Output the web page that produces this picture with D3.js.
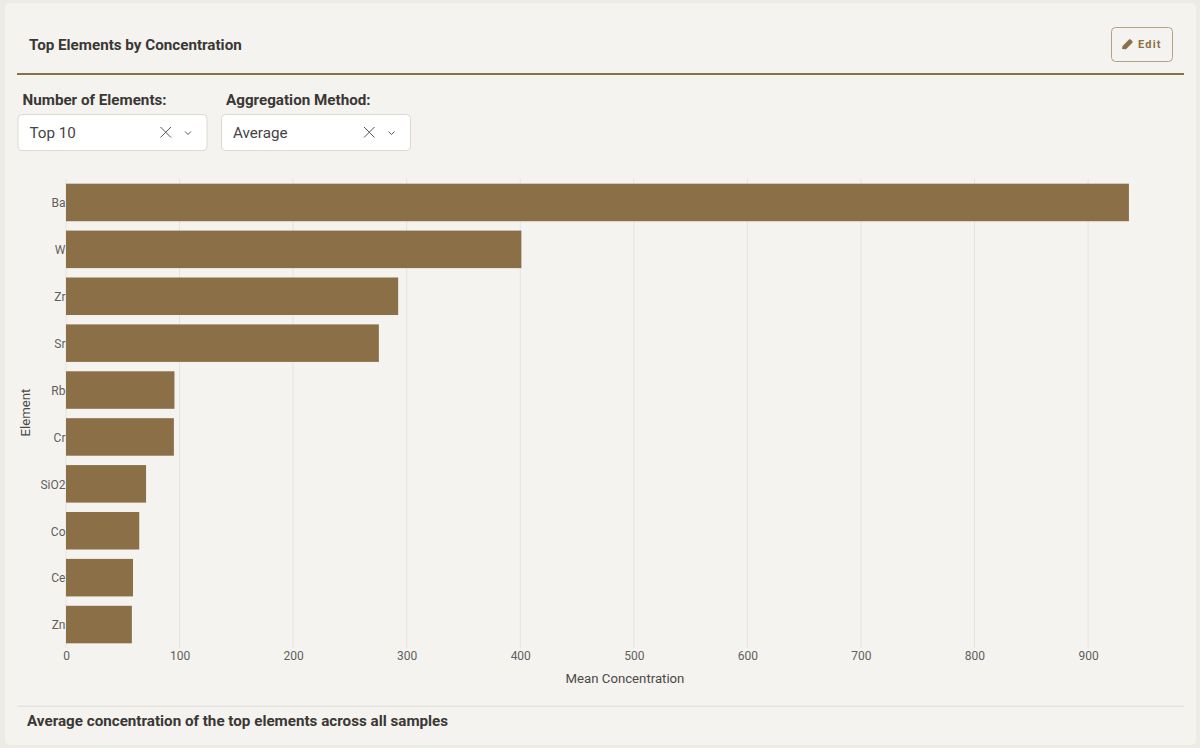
<!DOCTYPE html>
<html>
<head>
<meta charset="utf-8">
<script src="https://cdn.jsdelivr.net/npm/d3@7"></script>
<style>
    html, body { margin: 0; padding: 0; background: #ecebe6; overflow: hidden; }
    svg { display: block; font-family: Roboto, sans-serif; }
    .grid line { stroke: #e6e3de; stroke-width: 1; }
    /* d3 axis sets its own font-family on the group, so set it on the text */
    .x-axis text, .y-axis text { fill: #5f5f5f; font-size: 12px; font-family: Roboto, sans-serif; }
    .heading { fill: #3a3835; font-weight: 700; }
</style>
</head>
<body>
<div id="chart"></div>
<script>
// Values
const elements = ["Ba", "W", "Zr", "Sr", "Rb", "Cr", "SiO2", "Co", "Ce", "Zn"];
const concentrations = [936, 401, 292.5, 275.5, 95.5, 95, 70.5, 64.5, 59, 58];
const xTicks = [0, 100, 200, 300, 400, 500, 600, 700, 800, 900];

const BROWN = "#8b6f47";

let svg = d3.select("#chart").append("svg")
    .attr("width", 1200)
    .attr("height", 748);

// Card
svg.append("rect")
    .attr("x", 5).attr("y", 3)
    .attr("width", 1191).attr("height", 742)
    .attr("rx", 5)
    .attr("fill", "#f5f3ef");

// Header
svg.append("text")
    .attr("class", "heading")
    .attr("x", 29).attr("y", 50)
    .attr("font-size", 15.2)
    .text("Top Elements by Concentration");

svg.append("rect")
    .attr("x", 17).attr("y", 73)
    .attr("width", 1167).attr("height", 2)
    .attr("fill", BROWN);

// Edit button
svg.append("rect")
    .attr("x", 1111.5).attr("y", 27.5)
    .attr("width", 61).attr("height", 34)
    .attr("rx", 4)
    .attr("fill", "none")
    .attr("stroke", "#b5a084");

svg.append("path")
    .attr("transform", "translate(1122,39)")
    .attr("d", "M0 10 L0.6 7 L7 0.6 Q8 0 8.8 0.6 L10.4 2.2 Q11 3 10.4 3.8 L4 10.3 Z")
    .attr("fill", BROWN);

svg.append("text")
    .attr("x", 1138).attr("y", 48)
    .attr("font-size", 11)
    .attr("font-weight", 700)
    .attr("letter-spacing", 1.2)
    .attr("fill", BROWN)
    .text("Edit");

// Dropdowns
function dropdown(x, label, value) {
    svg.append("text")
        .attr("class", "heading")
        .attr("x", x + 5).attr("y", 105)
        .attr("font-size", 15.2)
        .text(label);

    svg.append("rect")
        .attr("x", x + 0.5).attr("y", 114.5)
        .attr("width", 189).attr("height", 36)
        .attr("rx", 4)
        .attr("fill", "#ffffff")
        .attr("stroke", "#ddd8d0");

    svg.append("text")
        .attr("x", x + 12).attr("y", 138)
        .attr("font-size", 15.2)
        .attr("fill", "#444")
        .text(value);

    // clear cross
    svg.append("path")
        .attr("d", `M${x + 143} 127 l10.5 10.5 M${x + 153.5} 127 l-10.5 10.5`)
        .attr("stroke", "#555")
        .attr("fill", "none");

    // chevron
    svg.append("path")
        .attr("d", `M${x + 167.5} 131.5 l3 3 l3 -3`)
        .attr("stroke", "#555")
        .attr("fill", "none");
}

dropdown(17.5, "Number of Elements:", "Top 10");
dropdown(221, "Aggregation Method:", "Average");

// Chart
let margin = { top: 179, right: 54, bottom: 100, left: 66 };
let width = 1200 - margin.left - margin.right;
let height = 748 - margin.top - margin.bottom;

let chartGroup = svg.append("g")
    .attr("transform", `translate(${margin.left},${margin.top})`);

let xScale = d3.scaleLinear()
    .domain([0, 950])
    .range([0, 113.56 * 9.5]);

let yScale = d3.scaleBand()
    .domain(elements)
    .range([0, height])
    .paddingInner(0.2)
    .paddingOuter(0.1);

chartGroup.append("g")
    .attr("class", "grid")
    .selectAll("line")
    .data(xTicks)
    .join("line")
    .attr("x1", d => xScale(d))
    .attr("x2", d => xScale(d))
    .attr("y1", 0)
    .attr("y2", height);

chartGroup.selectAll(".bar")
    .data(elements)
    .join("rect")
    .attr("class", "bar")
    .attr("x", 0)
    .attr("y", d => yScale(d))
    .attr("width", (d, i) => xScale(concentrations[i]))
    .attr("height", yScale.bandwidth())
    .attr("fill", BROWN);

let xAxis = chartGroup.append("g")
    .attr("class", "x-axis")
    .attr("transform", `translate(0,${height})`)
    .call(d3.axisBottom(xScale).tickValues(xTicks).tickSize(0).tickPadding(3.5).tickFormat(d3.format("d")));
xAxis.select(".domain").remove();

let yAxis = chartGroup.append("g")
    .attr("class", "y-axis")
    .call(d3.axisLeft(yScale).tickSize(0).tickPadding(0.5));
yAxis.select(".domain").remove();
yAxis.selectAll("text").attr("y", 1);

// Axis titles
svg.append("text")
    .attr("x", 625).attr("y", 683)
    .attr("text-anchor", "middle")
    .attr("font-size", 13.2)
    .attr("fill", "#4a4a4a")
    .text("Mean Concentration");

svg.append("text")
    .attr("transform", "translate(30,412.5) rotate(-90)")
    .attr("text-anchor", "middle")
    .attr("font-size", 13.2)
    .attr("fill", "#4a4a4a")
    .text("Element");

// Footer
svg.append("rect")
    .attr("x", 18).attr("y", 705.5)
    .attr("width", 1166).attr("height", 1.5)
    .attr("fill", "#e6e3de");

svg.append("text")
    .attr("class", "heading")
    .attr("x", 27).attr("y", 726)
    .attr("font-size", 15.2)
    .text("Average concentration of the top elements across all samples");
</script>
</body>
</html>
